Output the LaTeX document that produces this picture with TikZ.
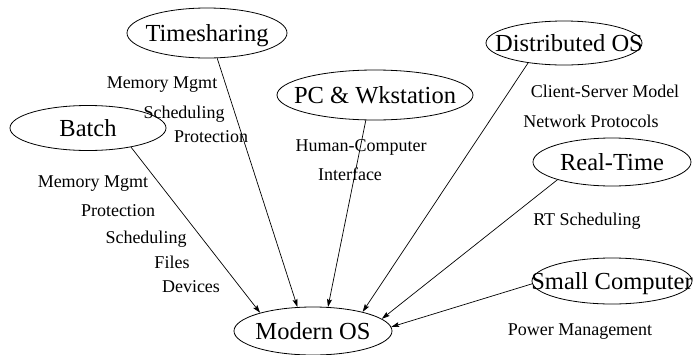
\documentclass[tikz,border=0pt]{standalone}
\usepackage{fontspec}
\setmainfont{Liberation Serif}
\usetikzlibrary{shapes.geometric,arrows.meta}
\tikzset{
  osbox/.style={ellipse, draw, line width=0.8pt, inner sep=0pt},
  bigtext/.style={font=\fontsize{24.5}{26}\selectfont, text depth=0pt},
  topic/.style={font=\fontsize{18}{20}\selectfont, inner sep=0pt, text depth=0pt, anchor=center},
  flow/.style={line width=0.7pt, -{Stealth[length=8pt,width=5pt,inset=1.5pt]}}
}
\begin{document}
\begin{tikzpicture}[x=1pt,y=-1pt]
\useasboundingbox (0,0) rectangle (694,354);

% system ellipses
\node[osbox, minimum width=160pt, minimum height=50pt,
      label={[bigtext]center:Timesharing}] (ts) at (207,33) {};
\node[osbox, minimum width=156pt, minimum height=45pt,
      label={[bigtext]center:Batch}] (ba) at (88,128) {};
\node[osbox, minimum width=196pt, minimum height=50pt,
      label={[bigtext]center:PC \& Wkstation}] (pc) at (375,95) {};
\node[osbox, minimum width=156pt, minimum height=44pt,
      label={[bigtext,xshift=5pt]center:Distributed OS}] (ds) at (564,43) {};
\node[osbox, minimum width=158pt, minimum height=48pt,
      label={[bigtext]center:Real-Time}] (rt) at (612,162) {};
\node[osbox, minimum width=160pt, minimum height=46pt,
      label={[bigtext]center:Small Computer}] (sm) at (612,281) {};
\node[osbox, minimum width=158pt, minimum height=48pt,
      label={[bigtext]center:Modern OS}] (mos) at (313,331) {};

% topics inherited from each system
\node[topic] (tmem) at (162,83)  {Memory Mgmt};
\node[topic] (tsch) at (184,112) {Scheduling};
\node[topic] (tpro) at (211,137) {Protection};

\node[topic] (bmem) at (93,182)  {Memory Mgmt};
\node[topic] (bpro) at (118,211) {Protection};
\node[topic] (bsch) at (146,237) {Scheduling};
\node[topic] (bfil) at (172,262) {Files};
\node[topic] (bdev) at (191,287) {Devices};

\node[topic] (phci) at (361,146) {Human-Computer};
\node[topic] (pint) at (350,174) {Interface};

\node[topic] (dcsm) at (605,91)  {Client-Server Model};
\node[topic] (dnet) at (591,121) {Network Protocols};

\node[topic] (rsch) at (587,219) {RT Scheduling};

\node[topic] (spow) at (580,330) {Power Management};

% connectors into the modern OS
\draw[flow] (ba.-24)  -- (mos.161.6);
\draw[flow] (ts.-68)  -- (mos.123.7);
\draw[flow] (pc.-110) -- (mos.58);
\draw[flow] (ds.-151) -- (mos.21);
\draw[flow] (rt.-162) -- (mos.10);
\draw[flow] (sm.182)  -- (mos.3.6);
\end{tikzpicture}
\end{document}
